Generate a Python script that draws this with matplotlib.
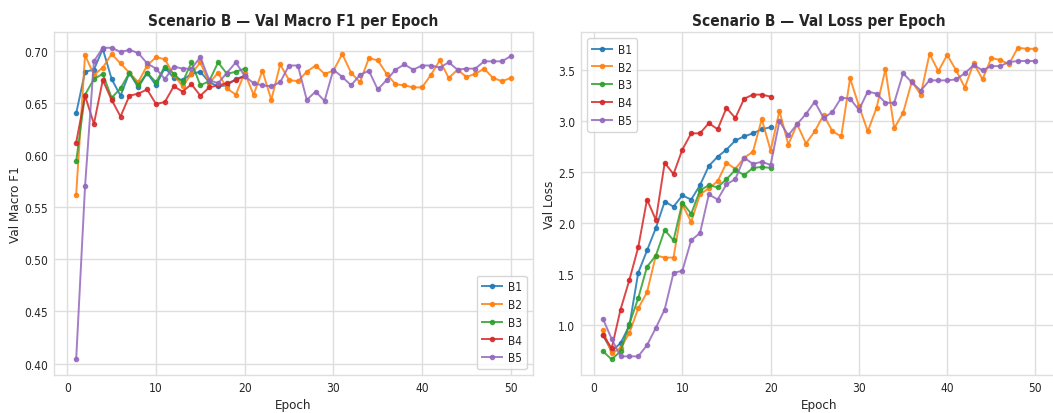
import numpy as np
import matplotlib
matplotlib.use("Agg")
import matplotlib.pyplot as plt
from matplotlib import font_manager

# data #################################################################################

models = ["B1", "B2", "B3", "B4", "B5"]

f1_b1 = [0.640, 0.680, 0.682, 0.702, 0.673, 0.657, 0.679, 0.665, 0.679, 0.667,
         0.684, 0.674, 0.672, 0.678, 0.680, 0.670, 0.666, 0.667, 0.673, 0.676]
f1_b2 = [0.562, 0.696, 0.677, 0.684, 0.697, 0.688, 0.679, 0.670, 0.686, 0.694,
         0.692, 0.677, 0.666, 0.678, 0.689, 0.669, 0.679, 0.664, 0.658, 0.679,
         0.658, 0.681, 0.653, 0.687, 0.672, 0.671, 0.680, 0.686, 0.678, 0.681,
         0.697, 0.679, 0.670, 0.693, 0.691, 0.678, 0.668, 0.667, 0.665, 0.665,
         0.677, 0.691, 0.674, 0.682, 0.675, 0.678, 0.683, 0.674, 0.671, 0.674]
f1_b3 = [0.594, 0.658, 0.673, 0.678, 0.655, 0.664, 0.679, 0.667, 0.679, 0.670,
         0.685, 0.678, 0.670, 0.689, 0.667, 0.671, 0.689, 0.678, 0.680, 0.683]
f1_b4 = [0.612, 0.657, 0.630, 0.672, 0.653, 0.637, 0.657, 0.659, 0.663, 0.649,
         0.651, 0.666, 0.661, 0.668, 0.657, 0.665, 0.667, 0.669, 0.672, 0.676]
f1_b5 = [0.404, 0.570, 0.690, 0.703, 0.703, 0.699, 0.701, 0.698, 0.688, 0.683,
         0.673, 0.685, 0.683, 0.683, 0.694, 0.672, 0.669, 0.679, 0.689, 0.676,
         0.669, 0.667, 0.666, 0.670, 0.686, 0.686, 0.653, 0.661, 0.652, 0.682,
         0.675, 0.667, 0.677, 0.681, 0.663, 0.672, 0.682, 0.687, 0.682, 0.686,
         0.686, 0.684, 0.689, 0.682, 0.683, 0.683, 0.690, 0.690, 0.690, 0.695]

loss_b1 = [0.90, 0.74, 0.82, 0.99, 1.51, 1.73, 1.95, 2.21, 2.16, 2.27,
           2.23, 2.37, 2.56, 2.65, 2.72, 2.81, 2.85, 2.88, 2.92, 2.94]
loss_b2 = [0.95, 0.72, 0.77, 0.92, 1.16, 1.32, 1.68, 1.66, 1.66, 2.18,
           2.01, 2.28, 2.34, 2.41, 2.59, 2.53, 2.64, 2.70, 3.02, 2.71,
           3.10, 2.77, 2.97, 2.78, 2.90, 3.06, 2.90, 2.85, 3.42, 3.15,
           2.90, 3.13, 3.51, 2.93, 3.08, 3.39, 3.26, 3.66, 3.49, 3.65,
           3.50, 3.33, 3.57, 3.41, 3.62, 3.60, 3.56, 3.72, 3.71, 3.71]
loss_b3 = [0.74, 0.66, 0.74, 1.01, 1.26, 1.57, 1.68, 1.93, 1.83, 2.20,
           2.09, 2.32, 2.37, 2.35, 2.43, 2.52, 2.47, 2.54, 2.55, 2.54]
loss_b4 = [0.90, 0.77, 1.15, 1.44, 1.76, 2.23, 2.03, 2.59, 2.48, 2.72,
           2.88, 2.88, 2.98, 2.92, 3.13, 3.03, 3.22, 3.26, 3.26, 3.24]
loss_b5 = [1.06, 0.86, 0.69, 0.69, 0.69, 0.80, 0.97, 1.15, 1.51, 1.53,
           1.83, 1.90, 2.28, 2.23, 2.38, 2.43, 2.64, 2.58, 2.60, 2.57,
           3.00, 2.86, 2.97, 3.07, 3.19, 3.03, 3.09, 3.23, 3.22, 3.11,
           3.29, 3.27, 3.18, 3.18, 3.47, 3.38, 3.30, 3.40, 3.40, 3.40,
           3.41, 3.47, 3.55, 3.50, 3.54, 3.54, 3.58, 3.59, 3.59, 3.59]

f1_series = [f1_b1, f1_b2, f1_b3, f1_b4, f1_b5]
loss_series = [loss_b1, loss_b2, loss_b3, loss_b4, loss_b5]

# font: the reference text is squeezed sideways, so prefer a narrow face ##############

names = {f.name for f in font_manager.fontManager.ttflist}
condensed = any(f.name == "DejaVu Sans" and f.stretch == "condensed"
                for f in font_manager.fontManager.ttflist)
if "Liberation Sans Narrow" in names:
    plt.rcParams["font.family"] = ["Liberation Sans Narrow", "DejaVu Sans"]
    k = 1.08
elif condensed:
    plt.rcParams["font.family"] = ["DejaVu Sans"]
    plt.rcParams["font.stretch"] = "condensed"
    k = 0.92
else:
    plt.rcParams["font.family"] = ["DejaVu Sans"]
    k = 0.86

grey = "#dedede"
plt.rcParams.update({
    "axes.edgecolor": grey,
    "axes.linewidth": 1.0,
    "grid.color": grey,
    "grid.linewidth": 1.0,
    "xtick.color": "#262626",
    "ytick.color": "#262626",
    "text.color": "#262626",
    "axes.labelcolor": "#262626",
    "xtick.major.size": 0,
    "ytick.major.size": 0,
})


def draw_panel(ax, series, title, ylabel, yticks, legend_loc):
    for name, vals in zip(models, series):
        ep = np.arange(1, len(vals) + 1)
        ax.plot(ep, vals, marker="o", markersize=3.0, linewidth=1.4,
                alpha=0.85, label=name)
    ax.grid(True)
    ax.set_axisbelow(True)
    ax.set_xticks([0, 10, 20, 30, 40, 50])
    ax.set_yticks(yticks)
    ax.tick_params(labelsize=9.3 * k, pad=4.5)
    ax.set_title(title, fontsize=12 * k, fontweight="bold", pad=5)
    ax.set_xlabel("Epoch", fontsize=10.5 * k, labelpad=3)
    ax.set_ylabel(ylabel, fontsize=10.5 * k, labelpad=1.5)
    ax.legend(loc=legend_loc, fontsize=9.3 * k, frameon=True,
              edgecolor="#cccccc", fancybox=True, labelspacing=0.4,
              handlelength=1.7, handletextpad=0.5, borderpad=0.4)


fig = plt.figure(figsize=(10.53, 4.14), dpi=100)
ax1 = fig.add_axes([0.0517, 0.0918, 0.454, 0.828])
ax2 = fig.add_axes([0.552, 0.0918, 0.4519, 0.828])

draw_panel(ax1, f1_series, "Scenario B \u2014 Val Macro F1 per Epoch", "Val Macro F1",
           [0.40, 0.45, 0.50, 0.55, 0.60, 0.65, 0.70], "lower right")
ax1.yaxis.set_major_formatter(matplotlib.ticker.FormatStrFormatter("%.2f"))
draw_panel(ax2, loss_series, "Scenario B \u2014 Val Loss per Epoch", "Val Loss",
           [1.0, 1.5, 2.0, 2.5, 3.0, 3.5], "upper left")
ax2.yaxis.set_major_formatter(matplotlib.ticker.FormatStrFormatter("%.1f"))

fig.savefig("out.png", dpi=100)
